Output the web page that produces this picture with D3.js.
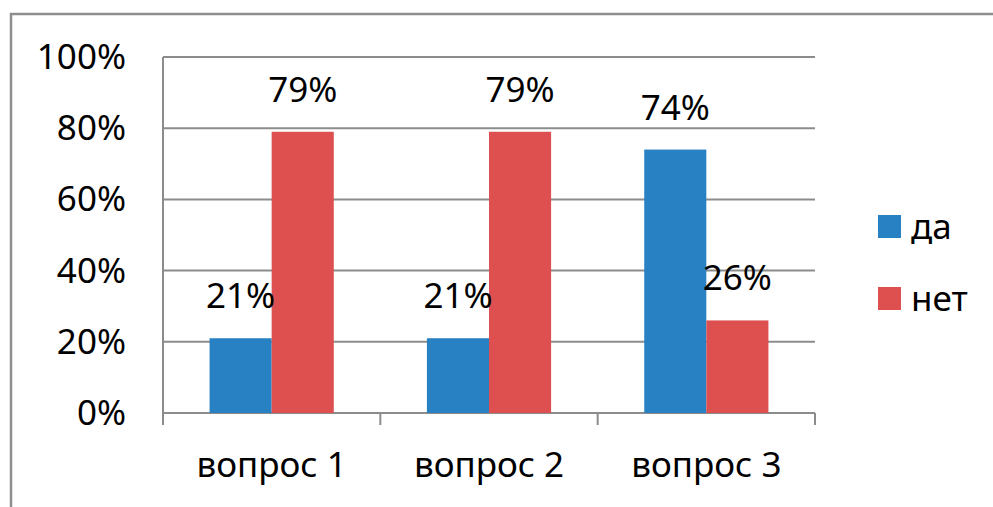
<!DOCTYPE html>
<html>
<head>
<meta charset="utf-8">
<script src="https://cdn.jsdelivr.net/npm/d3@7.9.0/dist/d3.min.js"></script>
<style>
  html, body { margin: 0; padding: 0; background: #fff; }
  svg { display: block; font-family: "Noto Sans", "Open Sans", sans-serif; }
</style>
</head>
<body>
<svg id="chart" width="993" height="507"></svg>
<script>
// данные
const categories = ['вопрос 1', 'вопрос 2', 'вопрос 3'];
const seriesNames = ['да', 'нет'];
const da  = [0.21, 0.21, 0.74];
const net = [0.79, 0.79, 0.26];
const yTicks = [0, 0.2, 0.4, 0.6, 0.8, 1.0];
const colors = ['#2781c2', '#de4f4f'];

const width = 993, height = 507;
const plot = { left: 163, right: 815, top: 57, bottom: 413 };
const gridColor = '#8c8c8c';
const fontSize = 35;

const svg = d3.select('#chart');

// рамка (верх и левая сторона)
svg.append('path')
  .attr('d', `M11,${height} V14 H${width}`)
  .attr('fill', 'none')
  .attr('stroke', '#8e8e8e')
  .attr('stroke-width', 2.5);

const x0 = d3.scaleBand()
  .domain(categories)
  .range([plot.left, plot.right])
  .paddingInner(0)
  .paddingOuter(0);

// зазор между группами = 75% ширины столбца
const x1 = d3.scaleBand()
  .domain(seriesNames)
  .range([0, x0.bandwidth()])
  .paddingOuter(0.75)
  .paddingInner(0);

const y = d3.scaleLinear().domain([0, 1]).range([plot.bottom, plot.top]);

// сетка
svg.append('g')
  .selectAll('line')
  .data(yTicks)
  .join('line')
  .attr('x1', plot.left)
  .attr('x2', plot.right)
  .attr('y1', d => y(d))
  .attr('y2', d => y(d))
  .attr('stroke', gridColor)
  .attr('stroke-width', 2);

// подписи оси Y
svg.append('g')
  .selectAll('text')
  .data(yTicks)
  .join('text')
  .attr('x', 126)
  .attr('y', d => y(d) + 12)
  .attr('text-anchor', 'end')
  .attr('font-size', fontSize)
  .attr('fill', '#000')
  .text(d => d3.format('.0%')(d));

// ось Y
svg.append('line')
  .attr('x1', plot.left).attr('x2', plot.left)
  .attr('y1', plot.top).attr('y2', plot.bottom + 12)
  .attr('stroke', gridColor).attr('stroke-width', 2);

// деления по оси X
const bounds = categories.map(c => x0(c) + x0.bandwidth());
svg.append('g')
  .selectAll('line')
  .data(bounds)
  .join('line')
  .attr('x1', d => d).attr('x2', d => d)
  .attr('y1', plot.bottom).attr('y2', plot.bottom + 12)
  .attr('stroke', gridColor).attr('stroke-width', 2);

// столбцы
const rows = categories.map((c, i) => ({ cat: c, values: [da[i], net[i]] }));

const groups = svg.append('g')
  .selectAll('g')
  .data(rows)
  .join('g')
  .attr('transform', d => `translate(${x0(d.cat)},0)`);

groups.selectAll('rect')
  .data(d => d.values.map((v, j) => ({ name: seriesNames[j], v, j })))
  .join('rect')
  .attr('x', d => x1(d.name))
  .attr('width', x1.bandwidth())
  .attr('y', d => y(d.v))
  .attr('height', d => y(0) - y(d.v))
  .attr('fill', d => colors[d.j]);

// подписи значений
groups.selectAll('text')
  .data(d => d.values.map((v, j) => ({ name: seriesNames[j], v, j })))
  .join('text')
  .attr('x', d => x1(d.name) + x1.bandwidth() / 2)
  .attr('y', d => y(d.v) - 30)
  .attr('text-anchor', 'middle')
  .attr('font-size', fontSize)
  .attr('fill', '#000')
  .text(d => d3.format('.0%')(d.v));

// подписи категорий
svg.append('g')
  .selectAll('text')
  .data(categories)
  .join('text')
  .attr('x', d => x0(d) + x0.bandwidth() / 2)
  .attr('y', 477)
  .attr('text-anchor', 'middle')
  .attr('font-size', fontSize)
  .attr('fill', '#000')
  .text(d => d);

// легенда
const legend = svg.append('g')
  .selectAll('g')
  .data(seriesNames)
  .join('g')
  .attr('transform', (d, i) => `translate(878,${215 + i * 72})`);

legend.append('rect')
  .attr('width', 23).attr('height', 23)
  .attr('fill', (d, i) => colors[i]);

legend.append('text')
  .attr('x', 33)
  .attr('y', 24)
  .attr('font-size', fontSize)
  .attr('fill', '#000')
  .text(d => d);
</script>
</body>
</html>
